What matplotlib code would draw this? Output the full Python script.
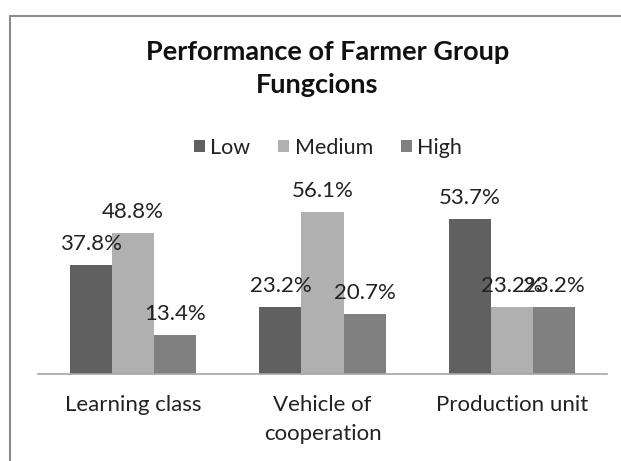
import matplotlib
matplotlib.use("Agg")
import matplotlib.pyplot as plt
import numpy as np
from matplotlib.patches import Rectangle

plt.rcParams["font.family"] = ["Lato", "DejaVu Sans"]

categories = ["Learning class", "Vehicle of\ncooperation", "Production unit"]
series_names = ["Low", "Medium", "High"]
low = [37.8, 23.2, 53.7]
medium = [48.8, 56.1, 23.2]
high = [13.4, 20.7, 23.2]
colors = ["#606060", "#b0b0b0", "#808080"]

W, H = 621, 461
fig = plt.figure(figsize=(W / 100, H / 100), dpi=100)

# chart frame (only left and top edges are visible in the screenshot)
fig.patches.append(Rectangle((10 / W, -0.1), 1.2, 1 - 16 / H + 0.1, transform=fig.transFigure,
                             fill=False, edgecolor="#8c8c8c", linewidth=1.5))

ax = fig.add_axes([38 / W, 1 - 374 / H, 569 / W, 201.6 / H])
x = np.arange(len(categories))
width = 0.222
for i, (name, vals) in enumerate(zip(series_names, [low, medium, high])):
    bars = ax.bar(x + (i - 1) * width, vals, width, color=colors[i], label=name)
    for b, v in zip(bars, vals):
        ax.annotate(f"{v:.1f}%", (b.get_x() + b.get_width() / 2, v), xytext=(0, 8),
                    textcoords="offset points", ha="center", va="bottom", fontsize=16,
                    color="#222222", annotation_clip=False)

ax.set_xlim(-0.5, 2.5)
ax.set_ylim(0, 70)
ax.set_yticks([])
ax.set_xticks(x)
ax.set_xticklabels(categories, fontsize=16, color="#222222", linespacing=1.55)
ax.tick_params(axis="x", length=0, pad=15)
for s in ["top", "right", "left"]:
    ax.spines[s].set_visible(False)
ax.spines["bottom"].set_color("#a6a6a6")
ax.spines["bottom"].set_linewidth(1.2)

fig.text(328 / W, 1 - 52 / H, "Performance of Farmer Group", ha="center", va="center",
         fontsize=19.5, fontweight="bold", color="#111111")
fig.text(317 / W, 1 - 85 / H, "Fungcions", ha="center", va="center",
         fontsize=19.5, fontweight="bold", color="#111111")

fig.legend(loc="center", bbox_to_anchor=(328 / W, 1 - 148 / H), ncol=3, frameon=False,
           fontsize=15.5, handlelength=0.5, handleheight=0.5, handletextpad=0.25,
           columnspacing=1.3, labelcolor="#222222")

fig.savefig("out.png", dpi=100)
